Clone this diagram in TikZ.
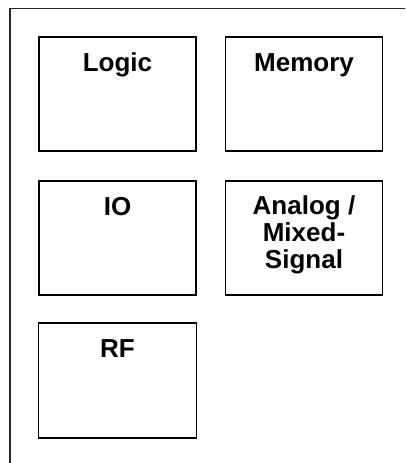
\documentclass[tikz,border=0pt]{standalone}
\usepackage{fontspec}
\setmainfont{Liberation Sans}
\begin{document}
\begin{tikzpicture}[x=1pt,y=-1pt,
  blockbox/.style={draw=black, line width=1.6pt, fill=white, minimum width=157pt, minimum height=114pt, inner sep=0pt},
  lbl/.style={font=\fontsize{26}{27}\selectfont\bfseries, align=center, inner sep=0pt, anchor=base, text=black},
  frame/.style={draw=black!85, line width=1.3pt}]
\useasboundingbox (0,0) rectangle (405,463);
\begin{scope}
\clip (0,0) rectangle (405,463);
\draw[frame] (10,8.5) rectangle (430,490);
\end{scope}
\node[blockbox] (logic) at (117.5,94) {};
\node[blockbox] (memory) at (304,94) {};
\node[blockbox] (io) at (117.5,238) {};
\node[blockbox] (analog) at (304,238) {};
\node[blockbox, minimum width=158pt, minimum height=115pt] (rf) at (117.5,380.5) {};
\node[lbl] (logict) at (117.5,71) {Logic};
\node[lbl] (memoryt) at (304,71) {Memory};
\node[lbl] (iot) at (117.5,215.5) {IO};
\node[lbl] (analogt) at (304,268) {Analog /\\Mixed-\\Signal};
\node[lbl] (rft) at (117.5,357) {RF};
\end{tikzpicture}
\end{document}
